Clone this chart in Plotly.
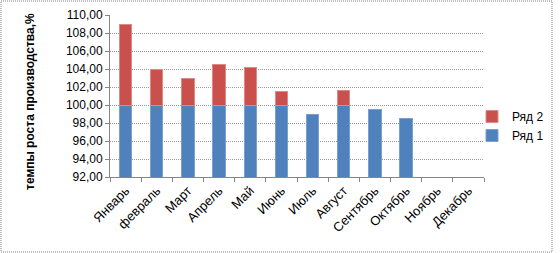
import plotly.graph_objects as go

months = ["Январь", "февраль", "Март", "Апрель", "Май", "Июнь", "Июль",
          "Август", "Сентябрь", "Октябрь", "Ноябрь", "Декабрь"]
series1 = [100.0, 100.0, 100.0, 100.0, 100.0, 100.0, 99.0, 100.0, 99.5, 98.5, None, None]
series2 = [9.0, 4.0, 3.0, 4.5, 4.2, 1.5, None, 1.6, None, None, None, None]
ytick_vals = [92, 94, 96, 98, 100, 102, 104, 106, 108, 110]
ytick_text = ["92,00", "94,00", "96,00", "98,00", "100,00", "102,00", "104,00",
              "106,00", "108,00", "110,00"]

FONT = "Liberation Sans"
fig = go.Figure()
fig.add_trace(go.Bar(x=months, y=series1, name="Ряд 1", width=0.4,
                     marker=dict(color="#4F81BD", line=dict(color="#7BA0D0", width=1))))
fig.add_trace(go.Bar(x=months, y=series2, name="Ряд 2", width=0.4,
                     marker=dict(color="#C9504D", line=dict(color="#E08A88", width=1))))

W, H = 560, 253
L, R, T, B = 110, 484, 15, 177
pw, ph = R - L, B - T

def px(x):
    return (x - L) / pw

def py(y):
    return (B - y) / ph

fig.update_layout(
    width=W, height=H,
    margin=dict(l=L, r=W - R, t=T, b=H - B, autoexpand=False),
    barmode="stack",
    paper_bgcolor="white", plot_bgcolor="white",
    font=dict(family=FONT, size=12, color="#000000"),
    showlegend=True,
    legend=dict(xref="container", yref="container", x=472 / W, y=1 - 126 / H,
                xanchor="left", yanchor="middle",
                traceorder="reversed", font=dict(size=12, family=FONT),
                itemwidth=30, tracegroupgap=8, bgcolor="rgba(0,0,0,0)"),
    xaxis=dict(showgrid=False, showline=True, linecolor="#868686", linewidth=1,
               ticks="outside", tickson="boundaries", ticklen=4, tickcolor="#868686",
               tickangle=-45, tickfont=dict(size=13, family=FONT), range=[-0.5, 11.5]),
    yaxis=dict(range=[92, 110], tickvals=ytick_vals, ticktext=ytick_text,
               showgrid=True, gridcolor="#9A9A9A", griddash="1px,1px", gridwidth=1,
               showline=True, linecolor="#868686", linewidth=1,
               ticks="outside", ticklen=4, tickcolor="#868686",
               tickfont=dict(size=12, family=FONT), zeroline=False),
    annotations=[dict(text="<b>темпы роста производства,%</b>", textangle=-90,
                      xref="paper", yref="paper", x=px(30), y=py(102),
                      showarrow=False, font=dict(size=12, family=FONT),
                      xanchor="center", yanchor="middle")],
    shapes=[dict(type="rect", xref="paper", yref="paper",
                 x0=px(1), x1=px(552), y0=py(252), y1=py(1),
                 line=dict(color="#808080", width=1, dash="1px,1px"))],
)

fig.write_html("out.html")
